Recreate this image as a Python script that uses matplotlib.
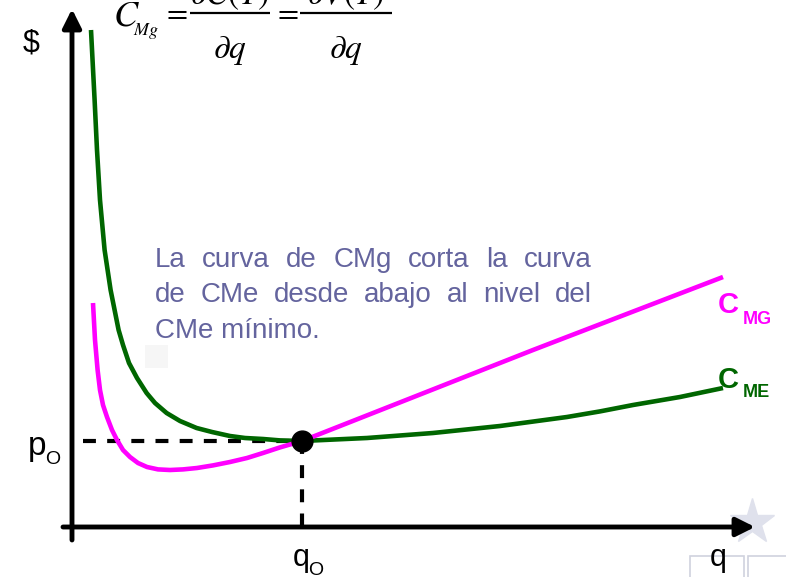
import matplotlib
matplotlib.use("Agg")
import matplotlib.pyplot as plt
from matplotlib.patches import Rectangle

plt.rcParams["font.family"] = ["Liberation Sans", "DejaVu Sans"]
plt.rcParams["mathtext.fontset"] = "stix"

# costo medio (CMe)
cme_q = [0.95, 1.13, 1.25, 1.40, 1.63, 1.93, 2.33, 2.55, 2.85, 3.25, 3.73,
         4.15, 4.73, 5.40, 6.23, 7.00, 7.90, 8.65, 9.55, 10.40, 11.50,
         14.75, 18.05, 21.40, 24.75, 26.40, 28.05, 30.40, 32.55]
cme_c = [24.85, 21.35, 18.85, 16.35, 13.85, 11.85, 9.85, 9.10, 8.20, 7.45, 6.70,
         6.20, 5.70, 5.30, 4.95, 4.75, 4.55, 4.45, 4.40, 4.33, 4.30,
         4.45, 4.70, 5.05, 5.50, 5.78, 6.10, 6.50, 6.95]

# costo marginal (CMg)
cmg_q = [1.05, 1.15, 1.28, 1.40, 1.55, 1.75, 2.00, 2.25, 2.55, 2.90, 3.30,
         3.75, 4.30, 4.90, 5.55, 6.25, 7.05, 7.90, 8.75, 9.55, 10.40, 11.50,
         23.05, 32.55]
cmg_c = [11.20, 9.35, 7.85, 6.85, 6.10, 5.50, 4.85, 4.35, 3.85, 3.50, 3.20,
         3.00, 2.88, 2.85, 2.88, 2.95, 3.08, 3.25, 3.45, 3.70, 3.98, 4.30,
         8.85, 12.50]

q0, p0 = 11.5, 4.30

texto = ["La curva de CMg corta la curva",
         "de CMe desde abajo al nivel del",
         "CMe mínimo."]

GREEN = "#006600"
PINK = "#ff00ff"
TXT = "#64649e"

fig = plt.figure(figsize=(7.86, 5.77), dpi=100)
ax = fig.add_axes([0, 0, 1, 1])
ax.set_xlim(-3.6, 35.7)
ax.set_ylim(-2.5, 26.35)
ax.axis("off")

# marca de agua (estrella y recuadros)
ax.plot([34.0], [0.25], marker="*", ms=34, color="#dfe1ec", zorder=0)
ax.add_patch(Rectangle((30.9, -2.6), 2.7, 1.15, fill=False, ec="#d0d2de", lw=1.2, zorder=0))
ax.add_patch(Rectangle((33.8, -2.6), 2.2, 1.15, fill=False, ec="#d0d2de", lw=1.2, zorder=0))
ax.add_patch(Rectangle((3.65, 7.95), 1.15, 1.15, color="#f6f6f6", lw=0, zorder=0))

# ejes con flechas
arrow = dict(arrowstyle="-|>,head_length=0.8,head_width=0.4", lw=3.5, color="k",
             mutation_scale=14, shrinkA=0, shrinkB=0)
ax.annotate("", xy=(0, 25.9), xytext=(0, -0.65), arrowprops=arrow, zorder=3)
ax.annotate("", xy=(34.15, 0), xytext=(-0.45, 0), arrowprops=arrow, zorder=3)

# líneas guía punteadas
ax.plot([0.55, q0], [p0, p0], color="k", lw=3, dashes=(3.1, 2.7), zorder=2)
ax.plot([q0, q0], [p0, 0], color="k", lw=3, dashes=(3.1, 2.7), zorder=2)

# curvas
ax.plot(cme_q, cme_c, color=GREEN, lw=3.3, solid_capstyle="butt",
        solid_joinstyle="round", zorder=4)
ax.plot(cmg_q, cmg_c, color=PINK, lw=3.3, solid_capstyle="butt",
        solid_joinstyle="round", zorder=5)
ax.plot([q0], [p0], "o", color="k", ms=15, zorder=6)

# etiquetas
ax.text(-2.05, 24.2, "$", fontsize=22, ha="center", va="center")
ax.text(-2.2, 3.6, "p", fontsize=24, va="baseline")
ax.text(-1.35, 3.15, "O", fontsize=14, va="baseline")
ax.text(11.05, -1.95, "q", fontsize=22, va="baseline")
ax.text(11.8, -2.4, "O", fontsize=14, va="baseline")
ax.text(31.9, -1.95, "q", fontsize=22, va="baseline")

ax.text(32.3, 10.7, "C", fontsize=21, fontweight="bold", color=PINK, va="baseline")
ax.text(33.55, 10.15, "MG", fontsize=13, fontweight="bold", color=PINK, va="baseline")
ax.text(32.3, 6.95, "C", fontsize=21, fontweight="bold", color=GREEN, va="baseline")
ax.text(33.55, 6.5, "ME", fontsize=13, fontweight="bold", color=GREEN, va="baseline")

# fórmula del costo marginal: C_Mg = dC(T)/dq = dV(T)/dq
ax.text(2.05, 25.1, r"$C$", fontsize=26, va="baseline")
ax.text(3.05, 24.6, r"$Mg$", fontsize=13, va="baseline")
for xe in (5.125, 10.675):
    ax.text(xe, 25.7, r"$=$", fontsize=22, ha="center", va="center")
for (xa, xb), num, xc in (((5.9, 9.9), r"$\partial C(T)$", 7.9),
                          ((11.4, 16.0), r"$\partial V(T)$", 13.7)):
    ax.plot([xa, xb], [25.7, 25.7], color="k", lw=1.6, solid_capstyle="butt")
    ax.text(xc, 26.15, num, fontsize=24, ha="center", va="baseline")
    ax.text(xc, 23.45, r"$\partial q$", fontsize=24, ha="center", va="baseline")

# párrafo justificado
left, right = 4.15, 26.0
baselines = [13.0, 11.25, 9.45]
fsize = 20
renderer = fig.canvas.get_renderer()
scale = ax.transData.transform((1, 0))[0] - ax.transData.transform((0, 0))[0]
for i, (line, yb) in enumerate(zip(texto, baselines)):
    if i == len(texto) - 1:
        ax.text(left, yb, line, fontsize=fsize, color=TXT, va="baseline")
        continue
    words = line.split()
    objs = [ax.text(left, yb, w, fontsize=fsize, color=TXT, va="baseline") for w in words]
    widths = [o.get_window_extent(renderer).width / scale for o in objs]
    gap = (right - left - sum(widths)) / (len(words) - 1)
    x = left
    for o, w in zip(objs, widths):
        o.set_x(x)
        x += w + gap

fig.savefig("out.png", dpi=100)
